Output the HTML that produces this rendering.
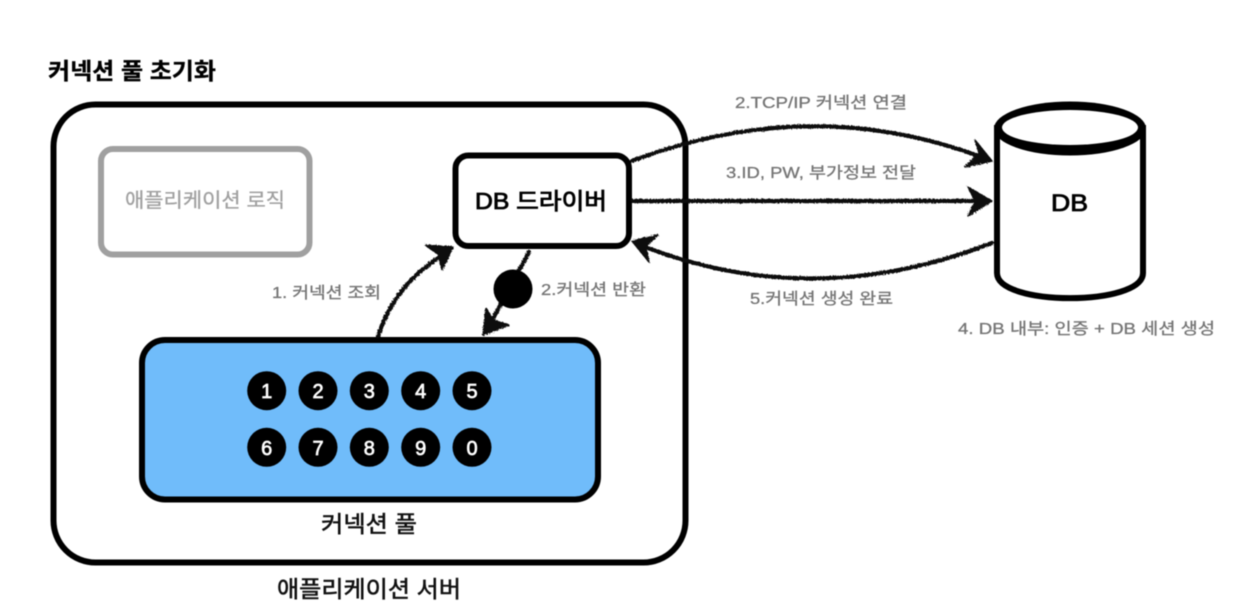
<!DOCTYPE html>
<html lang="ko"><head><meta charset="utf-8"><style>
html,body{margin:0;padding:0;background:#fff;width:1256px;height:616px;overflow:hidden}
svg{display:block;filter:blur(0.45px)}
text{font-family:"Liberation Sans","Noto Sans CJK KR",sans-serif}
.g{fill:#757575;stroke:#757575;stroke-width:.3px;font-size:16px}
.c{fill:#fff;stroke:#fff;stroke-width:.7px;font-size:20px;text-anchor:middle;font-family:"Liberation Sans",sans-serif}
.r{fill:none;stroke:#111;stroke-width:4.2;stroke-linecap:round;stroke-linejoin:round;filter:url(#rough)}
.h{fill:#111;stroke:#111;stroke-width:1.5;stroke-linejoin:round;filter:url(#rough2)}
.m{stroke:#111;stroke-width:.55px}
.b{stroke:#000;stroke-width:.85px}
</style></head><body>
<svg width="1256" height="616" viewBox="0 0 1256 616" xmlns="http://www.w3.org/2000/svg">
<defs>
<filter id="rough" filterUnits="userSpaceOnUse" x="0" y="0" width="1256" height="616">
<feTurbulence type="fractalNoise" baseFrequency="0.6" numOctaves="2" seed="3"/>
<feDisplacementMap in="SourceGraphic" scale="2.5"/></filter>
<filter id="rough2" filterUnits="userSpaceOnUse" x="0" y="0" width="1256" height="616">
<feTurbulence type="fractalNoise" baseFrequency="0.7" numOctaves="2" seed="7"/>
<feDisplacementMap in="SourceGraphic" scale="3"/></filter>
</defs>
<rect width="1256" height="616" fill="#fff"/>
<text x="48" y="79" font-size="23" font-weight="700" fill="#000" stroke="#000" stroke-width=".3" textLength="168" lengthAdjust="spacingAndGlyphs">커넥션 풀 초기화</text>
<rect x="53.500" y="104.500" width="632" height="458" rx="42" fill="#fff" stroke="#000" stroke-width="6"/>
<rect x="101" y="149" width="208.500" height="105.500" rx="12" fill="#fff" stroke="#a0a0a0" stroke-width="6"/>
<text x="125" y="207" font-size="20" fill="#a0a0a0" stroke="#a0a0a0" stroke-width=".3" textLength="160" lengthAdjust="spacingAndGlyphs">애플리케이션 로직</text>
<rect x="455.500" y="155.500" width="173.500" height="90.500" rx="13" fill="#fff" stroke="#000" stroke-width="6"/>
<text class="b" x="475" y="209" font-size="23" fill="#000" textLength="132" lengthAdjust="spacingAndGlyphs">DB 드라이버</text>
<rect x="142" y="340" width="456" height="159.500" rx="23" fill="#70bcfa" stroke="#000" stroke-width="6"/>
<g fill="#000">
<circle cx="266.700" cy="390.700" r="19.500"/><circle cx="318" cy="390.700" r="19.500"/><circle cx="369.300" cy="390.700" r="19.500"/><circle cx="420.700" cy="390.700" r="19.500"/><circle cx="472" cy="390.700" r="19.500"/>
<circle cx="266.700" cy="447.300" r="19.500"/><circle cx="318" cy="447.300" r="19.500"/><circle cx="369.300" cy="447.300" r="19.500"/><circle cx="420.700" cy="447.300" r="19.500"/><circle cx="472" cy="447.300" r="19.500"/>
</g>
<text class="c" x="266.700" y="398">1</text><text class="c" x="318" y="398">2</text><text class="c" x="369.300" y="398">3</text><text class="c" x="420.700" y="398">4</text><text class="c" x="472" y="398">5</text>
<text class="c" x="266.700" y="455">6</text><text class="c" x="318" y="455">7</text><text class="c" x="369.300" y="455">8</text><text class="c" x="420.700" y="455">9</text><text class="c" x="472" y="455">0</text>
<text class="m" x="321" y="532" font-size="23" fill="#111" textLength="96" lengthAdjust="spacingAndGlyphs">커넥션 풀</text>
<text class="m" x="277" y="597" font-size="23" fill="#111" textLength="184" lengthAdjust="spacingAndGlyphs">애플리케이션 서버</text>
<path d="M997 128V273C997 306.500 1143 306.500 1143 273V128Z" fill="#fff" stroke="#000" stroke-width="6"/>
<ellipse cx="1070" cy="128.500" rx="76" ry="27" fill="#000"/>
<ellipse cx="1070" cy="127.500" rx="68" ry="17.500" fill="#fff"/>
<text class="b" x="1051" y="211" font-size="24" fill="#000" textLength="37" lengthAdjust="spacingAndGlyphs">DB</text>
<path class="r" d="M632 161Q812 93 984 158"/>
<path class="h" d="M992 161L975 140L979 153L965 167Z"/>
<path class="r" d="M633 201H984"/>
<path class="h" d="M992 201L968 187L975 201L968 216Z"/>
<path class="r" d="M992 243Q812 313 640 245"/>
<path class="h" d="M632 241L658 235L646 246L649 262Z"/>
<path class="r" d="M378 336Q396 282 445 254"/>
<path class="h" d="M453 247L425 245L438 254L442 270Z"/>
<path class="r" d="M529 252L488 328"/>
<path class="h" d="M483 335L486 308L493 320L509 325Z"/>
<circle cx="513" cy="289" r="19.500" fill="#000"/>
<text class="g" x="272" y="298" textLength="109" lengthAdjust="spacingAndGlyphs">1. 커넥션 조회</text>
<text class="g" x="541" y="295" textLength="105" lengthAdjust="spacingAndGlyphs">2.커넥션 반환</text>
<text class="g" x="735" y="108" textLength="172" lengthAdjust="spacingAndGlyphs">2.TCP/IP 커넥션 연결</text>
<text class="g" x="726" y="178" textLength="190" lengthAdjust="spacingAndGlyphs">3.ID, PW, 부가정보 전달</text>
<text class="g" x="750" y="304" textLength="143" lengthAdjust="spacingAndGlyphs">5.커넥션 생성 완료</text>
<text class="g" x="958" y="334" textLength="257" lengthAdjust="spacingAndGlyphs">4. DB 내부: 인증 + DB 세션 생성</text>
</svg>
</body></html>
